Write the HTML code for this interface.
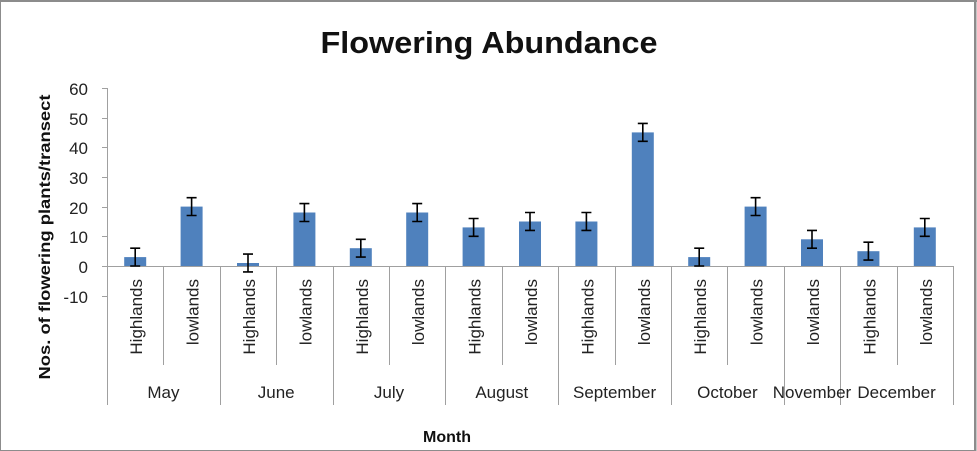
<!DOCTYPE html>
<html><head><meta charset="utf-8"><style>
html,body{margin:0;padding:0;background:#fff;}
svg{display:block;font-family:"Liberation Sans",sans-serif;}
</style></head><body>
<svg width="977" height="451" viewBox="0 0 977 451" xmlns="http://www.w3.org/2000/svg">
<rect x="0.5" y="0.5" width="974" height="450" fill="#fff" stroke="#8c8c8c" stroke-width="1"/>
<line x1="975.5" y1="0" x2="975.5" y2="451" stroke="#8c8c8c" stroke-width="2"/>
<line x1="0" y1="1" x2="977" y2="1" stroke="#8c8c8c" stroke-width="2"/>
<text x="489" y="53" text-anchor="middle" font-size="31" font-weight="bold" textLength="337" lengthAdjust="spacingAndGlyphs" fill="#111">Flowering Abundance</text>
<text transform="translate(50,237) rotate(-90)" text-anchor="middle" font-size="16" font-weight="bold" textLength="285" lengthAdjust="spacingAndGlyphs" fill="#111">Nos. of flowering plants/transect</text>
<text x="447" y="442" text-anchor="middle" font-size="16" font-weight="bold" fill="#111">Month</text>
<g stroke="#a0a0a0" stroke-width="1">
<line x1="107.5" y1="88" x2="107.5" y2="296"/>
<line x1="102" y1="88.5" x2="107" y2="88.5"/>
<line x1="102" y1="118.5" x2="107" y2="118.5"/>
<line x1="102" y1="147.5" x2="107" y2="147.5"/>
<line x1="102" y1="177.5" x2="107" y2="177.5"/>
<line x1="102" y1="207.5" x2="107" y2="207.5"/>
<line x1="102" y1="236.5" x2="107" y2="236.5"/>
<line x1="102" y1="266.5" x2="107" y2="266.5"/>
<line x1="102" y1="296.5" x2="107" y2="296.5"/>
<line x1="107" y1="266.5" x2="953" y2="266.5"/>
<line x1="107.5" y1="266" x2="107.5" y2="405"/>
<line x1="163.5" y1="266" x2="163.5" y2="365"/>
<line x1="220.5" y1="266" x2="220.5" y2="405"/>
<line x1="276.5" y1="266" x2="276.5" y2="365"/>
<line x1="333.5" y1="266" x2="333.5" y2="405"/>
<line x1="389.5" y1="266" x2="389.5" y2="365"/>
<line x1="445.5" y1="266" x2="445.5" y2="405"/>
<line x1="502.5" y1="266" x2="502.5" y2="365"/>
<line x1="558.5" y1="266" x2="558.5" y2="405"/>
<line x1="615.5" y1="266" x2="615.5" y2="365"/>
<line x1="671.5" y1="266" x2="671.5" y2="405"/>
<line x1="727.5" y1="266" x2="727.5" y2="365"/>
<line x1="784.5" y1="266" x2="784.5" y2="405"/>
<line x1="840.5" y1="266" x2="840.5" y2="405"/>
<line x1="897.5" y1="266" x2="897.5" y2="365"/>
<line x1="953.5" y1="266" x2="953.5" y2="405"/>
</g>
<g font-size="17" fill="#222" text-anchor="end">
<text x="88" y="95">60</text><text x="88" y="125">50</text><text x="88" y="154">40</text>
<text x="88" y="184">30</text><text x="88" y="214">20</text><text x="88" y="243">10</text>
<text x="88" y="273">0</text><text x="88" y="303">-10</text>
</g>
<g fill="#4f81bd">
<rect x="124.2" y="257.1" width="22" height="8.9"/>
<rect x="180.6" y="206.6" width="22" height="59.4"/>
<rect x="237" y="263" width="22" height="3"/>
<rect x="293.4" y="212.5" width="22" height="53.5"/>
<rect x="349.8" y="248.2" width="22" height="17.8"/>
<rect x="406.2" y="212.5" width="22" height="53.5"/>
<rect x="462.6" y="227.4" width="22" height="38.6"/>
<rect x="519" y="221.5" width="22" height="44.5"/>
<rect x="575.4" y="221.5" width="22" height="44.5"/>
<rect x="631.8" y="132.4" width="22" height="133.6"/>
<rect x="688.2" y="257.1" width="22" height="8.9"/>
<rect x="744.6" y="206.6" width="22" height="59.4"/>
<rect x="801" y="239.3" width="22" height="26.7"/>
<rect x="857.4" y="251.2" width="22" height="14.8"/>
<rect x="913.8" y="227.4" width="22" height="38.6"/>
</g>
<g stroke="#000" stroke-width="1.6" fill="none">
<path d="M135.2 248.2V266M130.2 248.2h10M130.2 266h10"/>
<path d="M191.6 197.7V215.5M186.6 197.7h10M186.6 215.5h10"/>
<path d="M248 254.1V271.9M243 254.1h10M243 271.9h10"/>
<path d="M304.4 203.6V221.5M299.4 203.6h10M299.4 221.5h10"/>
<path d="M360.8 239.3V257.1M355.8 239.3h10M355.8 257.1h10"/>
<path d="M417.2 203.6V221.5M412.2 203.6h10M412.2 221.5h10"/>
<path d="M473.6 218.5V236.3M468.6 218.5h10M468.6 236.3h10"/>
<path d="M530 212.5V230.4M525 212.5h10M525 230.4h10"/>
<path d="M586.4 212.5V230.4M581.4 212.5h10M581.4 230.4h10"/>
<path d="M642.8 123.4V141.3M637.8 123.4h10M637.8 141.3h10"/>
<path d="M699.2 248.2V266M694.2 248.2h10M694.2 266h10"/>
<path d="M755.6 197.7V215.5M750.6 197.7h10M750.6 215.5h10"/>
<path d="M812 230.4V248.2M807 230.4h10M807 248.2h10"/>
<path d="M868.4 242.2V260.1M863.4 242.2h10M863.4 260.1h10"/>
<path d="M924.8 218.5V236.3M919.8 218.5h10M919.8 236.3h10"/>
</g>
<g font-size="17" fill="#222" text-anchor="end">
<text transform="translate(142.2,279) rotate(-90)">Highlands</text>
<text transform="translate(198.6,279) rotate(-90)">lowlands</text>
<text transform="translate(255,279) rotate(-90)">Highlands</text>
<text transform="translate(311.4,279) rotate(-90)">lowlands</text>
<text transform="translate(367.8,279) rotate(-90)">Highlands</text>
<text transform="translate(424.2,279) rotate(-90)">lowlands</text>
<text transform="translate(480.6,279) rotate(-90)">Highlands</text>
<text transform="translate(537,279) rotate(-90)">lowlands</text>
<text transform="translate(593.4,279) rotate(-90)">Highlands</text>
<text transform="translate(649.8,279) rotate(-90)">lowlands</text>
<text transform="translate(706.2,279) rotate(-90)">Highlands</text>
<text transform="translate(762.6,279) rotate(-90)">lowlands</text>
<text transform="translate(819,279) rotate(-90)">lowlands</text>
<text transform="translate(875.4,279) rotate(-90)">Highlands</text>
<text transform="translate(931.8,279) rotate(-90)">lowlands</text>
</g>
<g font-size="17" fill="#222" text-anchor="middle">
<text x="163.4" y="398">May</text>
<text x="276.2" y="398">June</text>
<text x="389" y="398">July</text>
<text x="501.8" y="398">August</text>
<text x="614.6" y="398">September</text>
<text x="727.4" y="398">October</text>
<text x="812" y="398">November</text>
<text x="896.6" y="398">December</text>
</g>
</svg>
</body></html>
